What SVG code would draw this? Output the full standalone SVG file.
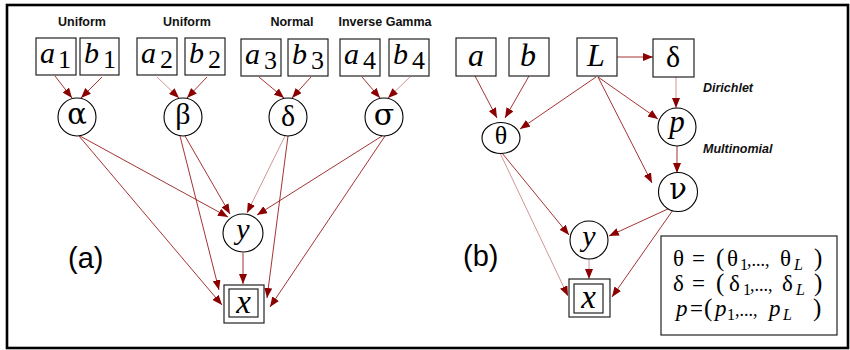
<svg xmlns="http://www.w3.org/2000/svg" width="850" height="350" viewBox="0 0 850 350">
  <style>
    .frame { fill: none; stroke: #000; stroke-width: 2.6; }
    .box { fill: #fff; stroke: #222; stroke-width: 1.2; }
    .node { fill: #fff; stroke: #000; stroke-width: 1.1; }
    .edge { fill: none; stroke: #9a1c1c; stroke-width: 0.9; marker-end: url(#head); }
    .faint { stroke: #c98a8a; }
    .it { font-family: "Liberation Serif", "Times New Roman", serif; font-style: italic; fill: #000; }
    .rm { font-family: "Liberation Serif", "Times New Roman", serif; fill: #000; }
    .gw { font-family: "DejaVu Serif", serif; fill: #000; }
    .dist { font-family: "Liberation Sans", Arial, sans-serif; font-weight: bold; font-size: 12.5px; fill: #111; }
    .dist2 { font-family: "Liberation Sans", Arial, sans-serif; font-weight: bold; font-style: italic; font-size: 12.5px; fill: #111; }
    .panel { font-family: "Liberation Sans", Arial, sans-serif; font-size: 29px; fill: #000; }
  </style>
  <defs>
    <marker id="head" markerUnits="userSpaceOnUse" markerWidth="10" markerHeight="8" refX="10" refY="4" orient="auto">
      <path d="M0,0 L10,4 L0,8 z" fill="#8b0000"/>
    </marker>
  </defs>

  <rect class="frame" x="7" y="5" width="841" height="343"/>

  <!-- distribution labels -->
  <g id="labels">
    <text class="dist" x="82" y="26" text-anchor="middle">Uniform</text>
    <text class="dist" x="187" y="26" text-anchor="middle">Uniform</text>
    <text class="dist" x="292" y="26" text-anchor="middle">Normal</text>
    <text class="dist" x="385" y="26" text-anchor="middle">Inverse Gamma</text>
    <text class="dist2" x="703" y="92">Dirichlet</text>
    <text class="dist2" x="703" y="153">Multinomial</text>
    <text class="panel" x="68" y="268">(a)</text>
    <text class="panel" x="463" y="266">(b)</text>
  </g>

  <!-- connectors -->
  <g id="edges">
    <!-- panel (a): hyperparameters to parameters -->
    <path class="edge" d="M55,76 L72,98"/>
    <path class="edge" d="M102,77 L81,98"/>
    <path class="edge faint" d="M157,77 L179,98"/>
    <path class="edge" d="M207,77 L187,98"/>
    <path class="edge" d="M259,77 L284,98"/>
    <path class="edge" d="M311,77 L292,98"/>
    <path class="edge" d="M362,77 L380,98"/>
    <path class="edge faint" d="M410,77 L388,98"/>
    <!-- panel (a): parameters to y and x -->
    <path class="edge" d="M80,136 L228,217"/>
    <path class="edge" d="M79,136 L222,305"/>
    <path class="edge" d="M185,136 L230,214"/>
    <path class="edge" d="M180,136 L219,290"/>
    <path class="edge faint" d="M285,136 L247,213"/>
    <path class="edge" d="M288,136 L267,298"/>
    <path class="edge" d="M382,136 L257,215"/>
    <path class="edge" d="M385,136 L270,307"/>
    <path class="edge" d="M243,253 L243,284"/>
    <!-- panel (b) -->
    <path class="edge" d="M475,76 L497,118"/>
    <path class="edge" d="M529,76 L505,118"/>
    <path class="edge" d="M596,77 L520,129"/>
    <path class="edge" d="M617,57 L653,57"/>
    <path class="edge" d="M598,77 L658,119"/>
    <path class="edge" d="M598,77 L652,183"/>
    <path class="edge faint" d="M676,77 L676,108"/>
    <path class="edge" d="M677,146 L677,173"/>
    <path class="edge" d="M502,153 L569,235"/>
    <path class="edge faint" d="M500,153 L568,296"/>
    <path class="edge" d="M670,208 L609,236"/>
    <path class="edge" d="M673,210 L612,297"/>
    <path class="edge faint" d="M589,259 L589,279"/>
  </g>

  <!-- panel (a) nodes -->
  <g id="a1"><rect class="box" x="36" y="38" width="40" height="37"/><text class="it" x="40" y="63" font-size="30">a</text><text class="rm" x="58" y="68" font-size="26">1</text></g>
  <g id="b1"><rect class="box" x="80" y="38" width="39" height="37"/><text class="it" x="84" y="63" font-size="30">b</text><text class="rm" x="103" y="68" font-size="26">1</text></g>
  <g id="a2"><rect class="box" x="137" y="38" width="40" height="37"/><text class="it" x="141" y="63" font-size="30">a</text><text class="rm" x="160" y="68" font-size="26">2</text></g>
  <g id="b2"><rect class="box" x="185" y="38" width="40" height="37"/><text class="it" x="189" y="63" font-size="30">b</text><text class="rm" x="208" y="68" font-size="26">2</text></g>
  <g id="a3"><rect class="box" x="241" y="39" width="40" height="37"/><text class="it" x="245" y="64" font-size="30">a</text><text class="rm" x="264" y="69" font-size="26">3</text></g>
  <g id="b3"><rect class="box" x="288" y="39" width="40" height="37"/><text class="it" x="292" y="64" font-size="30">b</text><text class="rm" x="311" y="69" font-size="26">3</text></g>
  <g id="a4"><rect class="box" x="340" y="39" width="40" height="37"/><text class="it" x="344" y="64" font-size="30">a</text><text class="rm" x="363" y="69" font-size="26">4</text></g>
  <g id="b4"><rect class="box" x="389" y="39" width="40" height="37"/><text class="it" x="393" y="64" font-size="30">b</text><text class="rm" x="412" y="69" font-size="26">4</text></g>

  <g id="alpha"><circle class="node" cx="77" cy="117" r="19"/><text class="gw" x="77" y="124" font-size="29" text-anchor="middle">α</text></g>
  <g id="beta"><circle class="node" cx="183" cy="117" r="19"/><text class="rm" x="183" y="124" font-size="30" text-anchor="middle">β</text></g>
  <g id="delta"><circle class="node" cx="288" cy="117" r="19"/><text class="rm" x="288" y="126" font-size="30" text-anchor="middle">δ</text></g>
  <g id="sigma"><circle class="node" cx="384" cy="117" r="19"/><text class="gw" x="384" y="125" font-size="30" text-anchor="middle">σ</text></g>

  <g id="y_a"><ellipse class="node" cx="243" cy="233" rx="20" ry="19"/><text class="it" x="243" y="239" font-size="30" text-anchor="middle">y</text></g>
  <g id="x_a"><rect class="box" x="224" y="285" width="40" height="38"/><rect class="box" x="229" y="289" width="29" height="28"/><text class="it" x="243.5" y="313" font-size="33" text-anchor="middle">x</text></g>

  <!-- panel (b) nodes -->
  <g id="a"><rect class="box" x="456" y="38" width="40" height="38"/><text class="it" x="476" y="66" font-size="32" text-anchor="middle">a</text></g>
  <g id="b"><rect class="box" x="509" y="38" width="40" height="38"/><text class="it" x="528" y="66" font-size="32" text-anchor="middle">b</text></g>
  <g id="L"><rect class="box" x="577" y="38" width="40" height="38"/><text class="it" x="596" y="66" font-size="32" text-anchor="middle">L</text></g>
  <g id="delta_box"><rect class="box" x="653" y="39" width="41" height="38"/><text class="rm" x="673" y="67" font-size="30" text-anchor="middle">δ</text></g>

  <g id="theta"><ellipse class="node" cx="501" cy="138" rx="19" ry="15.5"/><text class="rm" x="501" y="144" font-size="26" text-anchor="middle">θ</text></g>
  <g id="p"><circle class="node" cx="677" cy="127" r="19"/><text class="it" x="677" y="132" font-size="31" text-anchor="middle">p</text></g>
  <g id="nu"><circle class="node" cx="678" cy="192" r="19.5"/><text class="gw" x="678" y="199" font-size="29" text-anchor="middle">ν</text></g>
  <g id="y_b"><circle class="node" cx="589" cy="240" r="19"/><text class="it" x="589" y="246" font-size="30" text-anchor="middle">y</text></g>
  <g id="x_b"><rect class="box" x="569" y="279" width="41" height="38"/><rect class="box" x="574" y="284" width="29" height="29"/><text class="it" x="588.5" y="308" font-size="33" text-anchor="middle">x</text></g>

  <!-- legend -->
  <g id="legend">
    <rect class="box" x="661" y="236" width="176" height="99"/>
    <g class="rm" font-size="23">
      <text x="673" y="266">θ</text><text x="692" y="266">=</text><text x="716" y="266" font-size="25">(</text><text x="727" y="266">θ</text>
      <text x="740" y="270" font-size="16">1</text><text x="747" y="266" font-size="18">,...,</text>
      <text x="780" y="266">θ</text><text class="it" x="794" y="270" font-size="16">L</text><text x="814" y="266" font-size="25">)</text>

      <text x="673" y="291">δ</text><text x="692" y="291">=</text><text x="716" y="291" font-size="25">(</text><text x="729" y="291">δ</text>
      <text x="743" y="295" font-size="16">1</text><text x="750" y="291" font-size="18">,...,</text>
      <text x="782" y="291">δ</text><text class="it" x="796" y="295" font-size="16">L</text><text x="814" y="291" font-size="25">)</text>

      <text class="it" x="676" y="316">p</text><text x="690" y="316">=</text><text x="704" y="316" font-size="25">(</text><text class="it" x="715" y="316">p</text>
      <text x="727" y="320" font-size="16">1</text><text x="735" y="316" font-size="18">,...,</text>
      <text class="it" x="769" y="316">p</text><text class="it" x="783" y="320" font-size="16">L</text><text x="813" y="316" font-size="25">)</text>
    </g>
  </g>
</svg>
